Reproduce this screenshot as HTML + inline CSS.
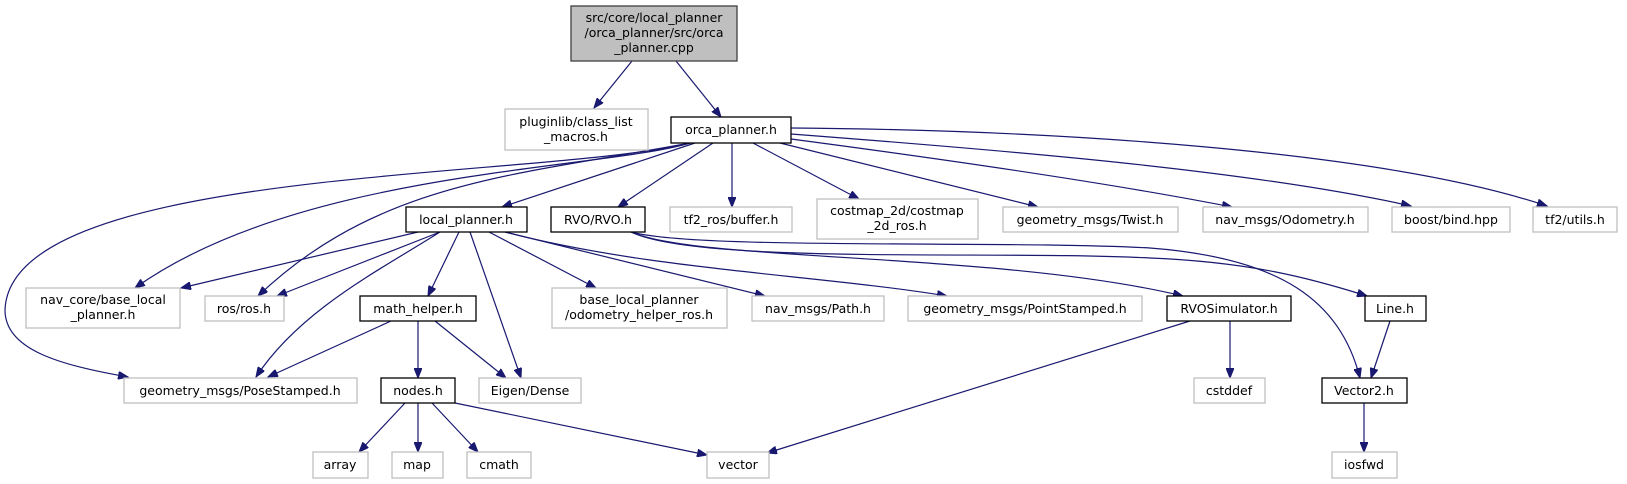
<!DOCTYPE html>
<html><head><meta charset="utf-8"><style>
html,body{margin:0;padding:0;background:#fff;width:1627px;height:484px;overflow:hidden}
svg{display:block}
text{font-family:"DejaVu Sans","Liberation Sans",sans-serif;font-size:12.5px;fill:#000;text-anchor:middle}
.g{fill:#fff;stroke:#bfbfbf;stroke-width:1.3}
.b{fill:#fff;stroke:#000;stroke-width:1.3}
.e{fill:none;stroke:#191970;stroke-width:1.2;marker-end:url(#a)}
</style></head><body>
<svg width="1627" height="484" viewBox="0 0 1627 484" xmlns="http://www.w3.org/2000/svg">
<defs><marker id="a" markerWidth="11" markerHeight="8" refX="10" refY="4" orient="auto" markerUnits="userSpaceOnUse"><path d="M0,0 L10,4 L0,8 z" fill="#191970" stroke="#191970"/></marker></defs>

<!-- edges -->
<path class="e" d="M632,61 L594,108"/>
<path class="e" d="M676,61 L721,117"/>
<path class="e" d="M695,143 L502,207"/>
<path class="e" d="M713,143 L618,207"/>
<path class="e" d="M732,143 L732,207"/>
<path class="e" d="M753,143 L859,199"/>
<path class="e" d="M780,143 L1038,207"/>
<path class="e" d="M791,139 C950,160 1120,185 1232,207"/>
<path class="e" d="M791,134 C1000,150 1250,170 1411,206"/>
<path class="e" d="M791,128 C1050,130 1380,150 1547,206"/>
<path class="e" d="M690,143 C600,170 300,170 135,288"/>
<path class="e" d="M690,143 C520,175 380,180 258,296"/>
<path class="e" d="M690,143 C540,180 10,165 5,310 C5,350 60,365 128,377"/>
<path class="e" d="M418,232 L181,288"/>
<path class="e" d="M440,232 L277,296"/>
<path class="e" d="M440,232 C380,270 300,310 256,377"/>
<path class="e" d="M459,232 L428,296"/>
<path class="e" d="M470,232 L521,378"/>
<path class="e" d="M489,232 L596,288"/>
<path class="e" d="M505,232 L765,296"/>
<path class="e" d="M505,232 C650,270 820,275 947,296"/>
<path class="e" d="M631,232 C700,262 1000,252 1183,296"/>
<path class="e" d="M631,232 C700,265 1000,250 1150,258 C1250,262 1310,278 1367,296"/>
<path class="e" d="M631,232 C700,250 1000,240 1150,248 C1280,258 1340,300 1360,378"/>
<path class="e" d="M1190,321 L767,453"/>
<path class="e" d="M1230,321 L1230,378"/>
<path class="e" d="M1390,321 L1371,378"/>
<path class="e" d="M1364,403 L1364,452"/>
<path class="e" d="M391,321 L268,377"/>
<path class="e" d="M418,321 L418,378"/>
<path class="e" d="M435,321 L506,378"/>
<path class="e" d="M405,403 L359,452"/>
<path class="e" d="M418,403 L418,452"/>
<path class="e" d="M432,403 L478,452"/>
<path class="e" d="M455,403 L707,455"/>

<!-- nodes -->
<rect x="571" y="6" width="166" height="55" fill="#bfbfbf" stroke="#404040" stroke-width="1.3"/>
<text x="654" y="22">src/core/local_planner</text>
<text x="654" y="37">/orca_planner/src/orca</text>
<text x="654" y="52">_planner.cpp</text>

<rect class="g" x="505" y="109" width="143" height="41"/>
<text x="576" y="126">pluginlib/class_list</text>
<text x="576" y="141">_macros.h</text>

<rect class="b" x="671" y="117" width="120" height="26"/><text x="731" y="134">orca_planner.h</text>

<rect class="b" x="406" y="207" width="121" height="25"/><text x="466" y="224">local_planner.h</text>
<rect class="b" x="551" y="207" width="94" height="25"/><text x="598" y="224">RVO/RVO.h</text>
<rect class="g" x="670" y="207" width="122" height="25"/><text x="731" y="224">tf2_ros/buffer.h</text>
<rect class="g" x="817" y="199" width="161" height="40"/>
<text x="897" y="215">costmap_2d/costmap</text><text x="897" y="230">_2d_ros.h</text>
<rect class="g" x="1003" y="207" width="175" height="25"/><text x="1090" y="224">geometry_msgs/Twist.h</text>
<rect class="g" x="1203" y="207" width="165" height="25"/><text x="1285" y="224">nav_msgs/Odometry.h</text>
<rect class="g" x="1392" y="207" width="118" height="25"/><text x="1451" y="224">boost/bind.hpp</text>
<rect class="g" x="1533" y="207" width="84" height="25"/><text x="1575" y="224">tf2/utils.h</text>

<rect class="g" x="26" y="288" width="154" height="40"/>
<text x="103" y="304">nav_core/base_local</text><text x="103" y="319">_planner.h</text>
<rect class="g" x="205" y="296" width="79" height="25"/><text x="244" y="313">ros/ros.h</text>
<rect class="b" x="360" y="296" width="116" height="25"/><text x="418" y="313">math_helper.h</text>
<rect class="g" x="552" y="288" width="175" height="40"/>
<text x="639" y="304">base_local_planner</text><text x="639" y="319">/odometry_helper_ros.h</text>
<rect class="g" x="752" y="296" width="132" height="25"/><text x="818" y="313">nav_msgs/Path.h</text>
<rect class="g" x="908" y="296" width="234" height="25"/><text x="1025" y="313">geometry_msgs/PointStamped.h</text>
<rect class="b" x="1167" y="296" width="124" height="25"/><text x="1229" y="313">RVOSimulator.h</text>
<rect class="b" x="1365" y="296" width="61" height="25"/><text x="1395" y="313">Line.h</text>

<rect class="g" x="124" y="378" width="233" height="25"/><text x="240" y="395">geometry_msgs/PoseStamped.h</text>
<rect class="b" x="381" y="378" width="74" height="25"/><text x="418" y="395">nodes.h</text>
<rect class="g" x="479" y="378" width="102" height="25"/><text x="530" y="395">Eigen/Dense</text>
<rect class="g" x="1194" y="378" width="71" height="25"/><text x="1229" y="395">cstddef</text>
<rect class="b" x="1322" y="378" width="85" height="25"/><text x="1364" y="395">Vector2.h</text>

<rect class="g" x="313" y="452" width="55" height="26"/><text x="340" y="469">array</text>
<rect class="g" x="392" y="452" width="51" height="26"/><text x="417" y="469">map</text>
<rect class="g" x="467" y="452" width="64" height="26"/><text x="499" y="469">cmath</text>
<rect class="g" x="707" y="452" width="62" height="26"/><text x="738" y="469">vector</text>
<rect class="g" x="1332" y="452" width="65" height="26"/><text x="1364" y="469">iosfwd</text>
</svg>
</body></html>
